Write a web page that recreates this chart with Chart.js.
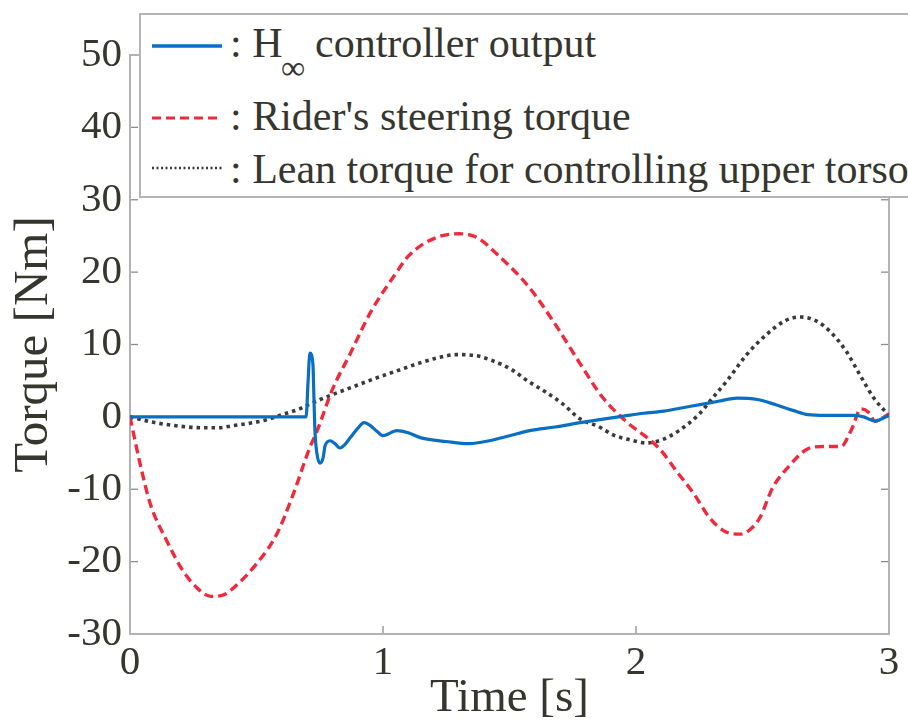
<!DOCTYPE html>
<html>
<head>
<meta charset="utf-8">
<script src="https://cdn.jsdelivr.net/npm/chart.js@4/dist/chart.umd.min.js"></script>
<style>
  html, body { margin: 0; padding: 0; background: #fff; overflow: hidden; }
  #wrap { position: relative; width: 908px; height: 727px; overflow: hidden; }
  #legend {
    position: absolute; left: 139px; top: 13px; width: 800px; height: 181px;
    border: 2px solid #b5b5b5; background: #fff;
    font-family: "Liberation Serif", Tinos, "Times New Roman", Times, "DejaVu Serif", serif; color: #36362f;
  }
  #legend .txt { position: absolute; font-size: 42px; line-height: 42px; white-space: nowrap; }
  #legend .sub { position: absolute; font-size: 34px; line-height: 34px; }
  #legend svg { position: absolute; left: 11px; width: 72px; height: 10px; }
</style>
</head>
<body>
<div id="wrap">
  <canvas id="c" width="908" height="727"></canvas>
  <div id="legend">
    <svg style="top:26px"><line x1="0" y1="5" x2="70" y2="5" stroke="#0a6fc2" stroke-width="3.5"/></svg>
    <span class="txt" style="left:89px; top:7px">: H</span>
    <span class="sub" style="left:140px; top:36px">∞</span>
    <span class="txt" style="left:174px; top:7px">controller output</span>
    <svg style="top:98px"><line x1="0" y1="5" x2="70" y2="5" stroke="#ee2a3c" stroke-width="3" stroke-dasharray="9 5"/></svg>
    <span class="txt" style="left:89px; top:80px">: Rider's steering torque</span>
    <svg style="top:148px"><line x1="0" y1="5" x2="70" y2="5" stroke="#3a3a3a" stroke-width="2.5" stroke-dasharray="2 2.5"/></svg>
    <span class="txt" style="left:89px; top:133px">: Lean torque for controlling upper torso</span>
  </div>
</div>
<script>
// H-infinity controller output [Nm] over time [s]
const tHinf = [0, 0.696, 0.704, 0.711, 0.723, 0.727, 0.731, 0.739, 0.751, 0.763,
  0.771, 0.791, 0.81, 0.83, 0.85, 0.87, 0.90, 0.925, 0.95, 0.976,
  1.0, 1.055, 1.10, 1.15, 1.25, 1.34, 1.42, 1.50, 1.58, 1.68,
  1.78, 1.87, 1.95, 2.03, 2.11, 2.19, 2.27, 2.33, 2.40, 2.48,
  2.55, 2.62, 2.68, 2.75, 2.86, 2.90, 2.945, 2.97, 3.0];
const vHinf = [0, 0, 5.0, 8.8, 7.3, 2.6, -1.9, -5.1, -6.4, -5.7,
  -4.0, -3.3, -3.7, -4.3, -3.8, -2.9, -1.6, -0.8, -1.2, -2.0,
  -2.6, -1.9, -2.2, -2.9, -3.4, -3.7, -3.3, -2.6, -1.9, -1.4,
  -0.8, -0.3, 0.1, 0.5, 0.8, 1.3, 1.8, 2.2, 2.6, 2.4,
  1.7, 0.9, 0.3, 0.2, 0.2, 0.0, -0.6, -0.3, 0.2];

// Rider's steering torque [Nm]
const tRider = [0, 0.04, 0.08, 0.145, 0.21, 0.27, 0.32, 0.37, 0.41, 0.50,
  0.58, 0.645, 0.71, 0.74, 0.80, 0.87, 0.95, 1.05, 1.10, 1.16, 1.23,
  1.30, 1.37, 1.45, 1.58, 1.69, 1.78, 1.87, 1.96, 2.09, 2.16,
  2.23, 2.29, 2.35, 2.41, 2.45, 2.49, 2.54, 2.60, 2.68, 2.74,
  2.81, 2.85, 2.89, 2.92, 2.945, 2.97, 3.0];
const vRider = [0, -6.5, -12.0, -17.1, -21.3, -23.8, -24.8, -24.6, -23.6, -20.3,
  -16.2, -10.7, -4.3, -1.9, 3.8, 8.7, 14.4, 19.8, 22.2, 23.9, 25.0,
  25.3, 24.8, 22.5, 17.8, 12.3, 7.3, 2.6, -0.6, -4.3, -7.5,
  -10.7, -13.9, -15.8, -16.2, -15.6, -13.9, -9.8, -7.0, -4.4, -4.1,
  -4.1, -1.9, 1.1, 0.6, -0.6, -0.2, 0.4];

// Lean torque for controlling the upper torso [Nm]
const tLean = [0, 0.1, 0.2, 0.28, 0.35, 0.41, 0.47, 0.54, 0.60, 0.67,
  0.70, 0.78, 0.87, 0.96, 1.05, 1.15, 1.22, 1.29, 1.36, 1.43,
  1.51, 1.57, 1.64, 1.71, 1.78, 1.85, 1.91, 1.98, 2.04, 2.10,
  2.17, 2.25, 2.30, 2.36, 2.44, 2.52, 2.59, 2.65, 2.71, 2.77,
  2.83, 2.89, 2.94, 3.0];
const vLean = [0, -0.8, -1.3, -1.5, -1.5, -1.2, -0.9, -0.4, 0.3, 1.1,
  1.6, 2.8, 4.0, 5.2, 6.3, 7.5, 8.2, 8.6, 8.5, 7.8,
  6.5, 5.0, 3.5, 1.8, -0.3, -1.3, -2.5, -3.2, -3.6, -3.2,
  -1.9, 0.4, 2.5, 5.0, 8.7, 11.5, 13.3, 13.8, 13.3, 11.7,
  9.1, 5.5, 2.6, 0.2];

// Axis ticks
const xTicks = [0, 1, 2, 3];
const yTicks = [-30, -20, -10, 0, 10, 20, 30, 40, 50];

const pts = (ts, vs) => ts.map((t, i) => ({ x: t, y: vs[i] }));

const SERIF = '"Liberation Serif", Tinos, "Times New Roman", Times, "DejaVu Serif", serif';
const INK = '#36362f';

// Box around the plot area with inward tick marks on all sides
const frame = {
  id: 'frame',
  beforeDatasetsDraw(chart) {
    const { ctx, chartArea: a, scales: { x, y } } = chart;
    const seg = (x1, y1, x2, y2) => { ctx.beginPath(); ctx.moveTo(x1, y1); ctx.lineTo(x2, y2); ctx.stroke(); };
    ctx.save();
    ctx.strokeStyle = '#8c8c8c';
    ctx.lineWidth = 1.3;
    yTicks.forEach(v => {
      const py = y.getPixelForValue(v);
      seg(a.left, py, a.left + 8, py);
      seg(a.right - 8, py, a.right, py);
    });
    xTicks.forEach(v => {
      const px = x.getPixelForValue(v);
      seg(px, a.bottom, px, a.bottom - 8);
      seg(px, a.top, px, a.top + 8);
    });
    ctx.strokeStyle = '#b3b3b3';
    ctx.lineWidth = 2;
    ctx.strokeRect(a.left, a.top, a.right - a.left, a.bottom - a.top);
    ctx.restore();
  }
};

new Chart(document.getElementById('c'), {
  type: 'line',
  data: {
    datasets: [
      {
        label: 'H∞ controller output',
        data: pts(tHinf, vHinf),
        borderColor: '#0a6fc2',
        borderWidth: 3.2,
        cubicInterpolationMode: 'monotone'
      },
      {
        label: "Rider's steering torque",
        data: pts(tRider, vRider),
        borderColor: '#ee2a3c',
        borderWidth: 3.4,
        borderDash: [9, 5],
        cubicInterpolationMode: 'monotone'
      },
      {
        label: 'Lean torque for controlling upper torso',
        data: pts(tLean, vLean),
        borderColor: '#3a3a3a',
        borderWidth: 3.6,
        borderDash: [3.5, 4],
        cubicInterpolationMode: 'monotone'
      }
    ]
  },
  options: {
    responsive: false,
    animation: false,
    events: [],
    elements: { point: { radius: 0 } },
    layout: { padding: { top: 55, right: 19, left: 0, bottom: 0 } },
    plugins: { legend: { display: false }, tooltip: { enabled: false } },
    scales: {
      x: {
        type: 'linear',
        min: 0, max: 3,
        afterFit: s => { s.height = 93; },
        afterBuildTicks: s => { s.ticks = xTicks.map(v => ({ value: v })); },
        grid: { display: false, drawTicks: false },
        border: { display: false },
        ticks: { color: INK, padding: 5, maxRotation: 0, font: { family: SERIF, size: 41 } },
        title: { display: true, text: 'Time [s]', color: INK, padding: { top: 0, bottom: 0 },
                 font: { family: SERIF, size: 47, lineHeight: 1.2 } }
      },
      y: {
        min: -30, max: 50,
        afterFit: s => { s.width = 130; },
        afterBuildTicks: s => { s.ticks = yTicks.map(v => ({ value: v })); },
        grid: { display: false, drawTicks: false },
        border: { display: false },
        ticks: { color: INK, padding: 8, font: { family: SERIF, size: 41 } },
        title: { display: true, text: 'Torque [Nm]', color: INK, padding: { top: 5, bottom: 0 },
                 font: { family: SERIF, size: 49, lineHeight: 1.2 } }
      }
    }
  },
  plugins: [frame]
});
</script>
</body>
</html>
